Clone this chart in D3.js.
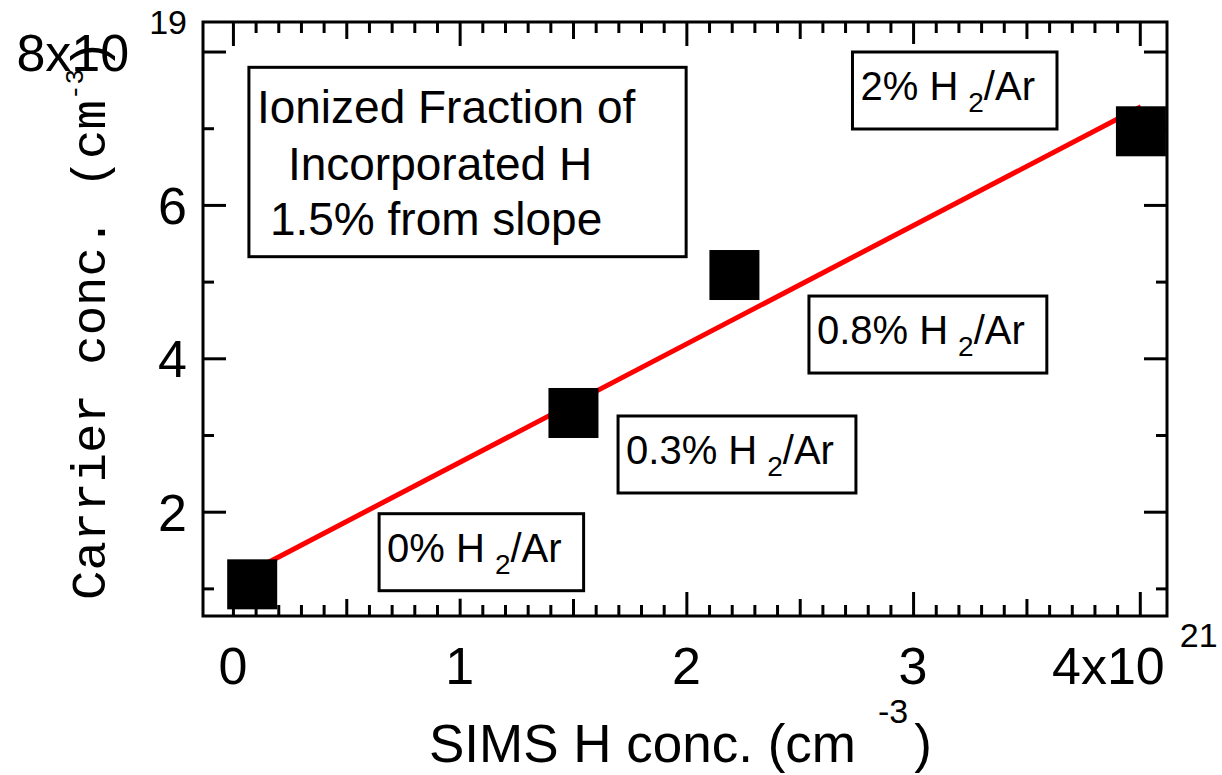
<!DOCTYPE html>
<html>
<head>
<meta charset="utf-8">
<script src="https://cdn.jsdelivr.net/npm/d3@7"></script>
<style>
  html, body { margin: 0; padding: 0; background: #fff; }
  svg { display: block; }
</style>
</head>
<body>
<svg id="chart" width="1222" height="775"></svg>
<script>
// Carrier concentration vs. SIMS hydrogen concentration for films grown
// with different H2/Ar mixtures.
const simsH    = [0.085, 1.502, 2.212, 4.005];   // x 10^21 cm^-3
const carrier  = [1.053, 3.287, 5.086, 6.960];   // x 10^19 cm^-3
const mixLabels = ["0%", "0.3%", "0.8%", "2%"];  // H2/Ar in the growth gas

// straight-line fit through the points (slope gives the ionized fraction)
const fitX = [0.085, 4.005];
const fitY = [1.23, 7.28];

const xMajorTicks = [0, 1, 2, 3, 4];
const yMajorTicks = [2, 4, 6, 8];
const xExponent = "21";
const yExponent = "19";
const noteLines = ["Ionized Fraction of", "Incorporated H", "1.5% from slope"];

const svg = d3.select("#chart");
const ink = "#000";
const sans = "'Liberation Sans', Arial, sans-serif";
const mono = "'Liberation Mono', 'Courier New', monospace";

const plot = { left: 203, right: 1167, top: 22, bottom: 616 };
const x = d3.scaleLinear().domain([-0.132, 4.12]).range([plot.left, plot.right]);
const y = d3.scaleLinear().domain([0.64, 8.385]).range([plot.bottom, plot.top]);

// ---- frame and ticks (mirrored on all four sides, pointing inward)
function ticks(axis, transform, size, values) {
  const g = svg.append("g")
    .attr("transform", transform)
    .call(axis.tickValues(values).tickSize(size).tickSizeOuter(0).tickFormat(""));
  g.select(".domain").remove();
  g.selectAll(".tick text").remove();
  g.selectAll(".tick line").attr("stroke", ink).attr("stroke-width", 3);
}

const xAll = d3.range(0, 41).map(i => i / 10);
const isHalf = v => Math.abs(v * 2 - Math.round(v * 2)) < 1e-9;
const isWhole = v => Math.abs(v - Math.round(v)) < 1e-9;
const xHalf = xAll.filter(v => isHalf(v) && !isWhole(v));
const xMinor = xAll.filter(v => !isHalf(v));
const yMinor = [1, 3, 5, 7];

[0, 1].forEach(i => {
  const make = () => i === 0 ? d3.axisBottom(x) : d3.axisTop(x);
  const tr = `translate(0,${i === 0 ? plot.bottom : plot.top})`;
  ticks(make(), tr, -11, xMinor);
  ticks(make(), tr, -17, xHalf);
  ticks(make(), tr, -24, xMajorTicks);
});
[0, 1].forEach(i => {
  const make = () => i === 0 ? d3.axisLeft(y) : d3.axisRight(y);
  const tr = `translate(${i === 0 ? plot.left : plot.right},0)`;
  ticks(make(), tr, -11, yMinor);
  ticks(make(), tr, -23, yMajorTicks);
});

svg.append("rect")
  .attr("x", plot.left).attr("y", plot.top)
  .attr("width", plot.right - plot.left).attr("height", plot.bottom - plot.top)
  .attr("fill", "none").attr("stroke", ink).attr("stroke-width", 3);

// ---- tick labels
const tickFont = 52, expFont = 34;
xMajorTicks.forEach((v, i) => {
  const last = i === xMajorTicks.length - 1;
  const t = svg.append("text")
    .attr("x", x(v) - (last ? 5 : 0)).attr("y", 684)
    .attr("text-anchor", "middle")
    .attr("font-family", sans).attr("font-size", tickFont).attr("fill", ink);
  if (last) {
    t.append("tspan").text(`${v}x10`);
    t.append("tspan").attr("dx", 15).attr("dy", -37).attr("font-size", expFont).text(xExponent);
  } else {
    t.text(v);
  }
});
yMajorTicks.forEach((v, i) => {
  const t = svg.append("text")
    .attr("x", 187).attr("y", y(v) + 19)
    .attr("text-anchor", "end")
    .attr("font-family", sans).attr("font-size", tickFont).attr("fill", ink);
  if (i === yMajorTicks.length - 1) {
    t.append("tspan").text(`${v}x10`);
    t.append("tspan").attr("dx", 20).attr("dy", -37).attr("font-size", expFont).text(yExponent);
  } else {
    t.text(v);
  }
});

// ---- axis titles
const xt = svg.append("text")
  .attr("x", 429).attr("y", 762)
  .attr("font-family", sans).attr("font-size", 53).attr("fill", ink);
xt.append("tspan").text("SIMS H conc. (cm");
xt.append("tspan").attr("dx", 22).attr("dy", -39).attr("font-size", 34).text("-3");
xt.append("tspan").attr("dx", 6).attr("dy", 39).attr("font-size", 53).text(")");

const yt = svg.append("text")
  .attr("transform", "translate(105,600) rotate(-90)")
  .attr("font-family", mono).attr("font-size", 49).attr("fill", ink);
yt.append("tspan").text("Carrier conc. (cm");
yt.append("tspan").attr("dy", -22).attr("font-size", 26).text("-3");
yt.append("tspan").attr("dy", 22).attr("font-size", 49).text(")");

// ---- layers: label backgrounds sit under the fit line, boxes on top
const haloLayer = svg.append("g");
const markLayer = svg.append("g");
const boxLayer = svg.append("g");

markLayer.append("path")
  .datum(d3.zip(fitX, fitY))
  .attr("d", d3.line().x(d => x(d[0])).y(d => y(d[1])))
  .attr("fill", "none").attr("stroke", "#ff0000").attr("stroke-width", 5);

const sq = 50;
markLayer.append("g").selectAll("rect")
  .data(d3.zip(simsH, carrier))
  .join("rect")
  .attr("x", d => x(d[0]) - sq / 2).attr("y", d => y(d[1]) - sq / 2)
  .attr("width", sq).attr("height", sq)
  .attr("fill", ink);

// ---- labelled boxes (text origin in data units)
function boxed(g, bb) {
  haloLayer.append("rect")
    .attr("x", bb.x - 8).attr("y", bb.y - 8)
    .attr("width", bb.w + 16).attr("height", bb.h + 16)
    .attr("fill", "#fff");
  g.insert("rect", "text")
    .attr("x", bb.x).attr("y", bb.y)
    .attr("width", bb.w).attr("height", bb.h)
    .attr("fill", "#fff").attr("stroke", ink).attr("stroke-width", 3);
}

const labelAt = [[0.680, 1.348], [1.734, 2.622], [2.576, 4.186], [2.768, 7.368]];
mixLabels.forEach((lab, i) => {
  const ox = x(labelAt[i][0]), oy = y(labelAt[i][1]);
  const g = boxLayer.append("g");
  const t = g.append("text")
    .attr("x", ox).attr("y", oy)
    .attr("font-family", sans).attr("font-size", 40).attr("fill", ink);
  t.append("tspan").text(`${lab} H`);
  t.append("tspan").attr("dx", 10).attr("dy", 12).attr("font-size", 28).text("2");
  t.append("tspan").attr("dy", -12).attr("font-size", 40).text("/Ar");
  const w = t.node().getBBox().width;
  boxed(g, { x: ox - 8, y: oy - 48, w: w + 30, h: 77 });
});

// note box with the slope result
const note = boxLayer.append("g");
const nx0 = x(0.0705), nx1 = x(1.999), ny0 = y(7.794), ny1 = y(5.325);
const noteT = note.append("text")
  .attr("font-family", sans).attr("font-size", 46).attr("fill", ink);
const noteDx = [8, 39, 21], noteDy = [56, 112.7, 167.7];
noteLines.forEach((line, i) => {
  noteT.append("tspan").attr("x", nx0 + noteDx[i]).attr("y", ny0 + noteDy[i]).text(line);
});
boxed(note, { x: nx0, y: ny0, w: nx1 - nx0, h: ny1 - ny0 });
</script>
</body>
</html>
